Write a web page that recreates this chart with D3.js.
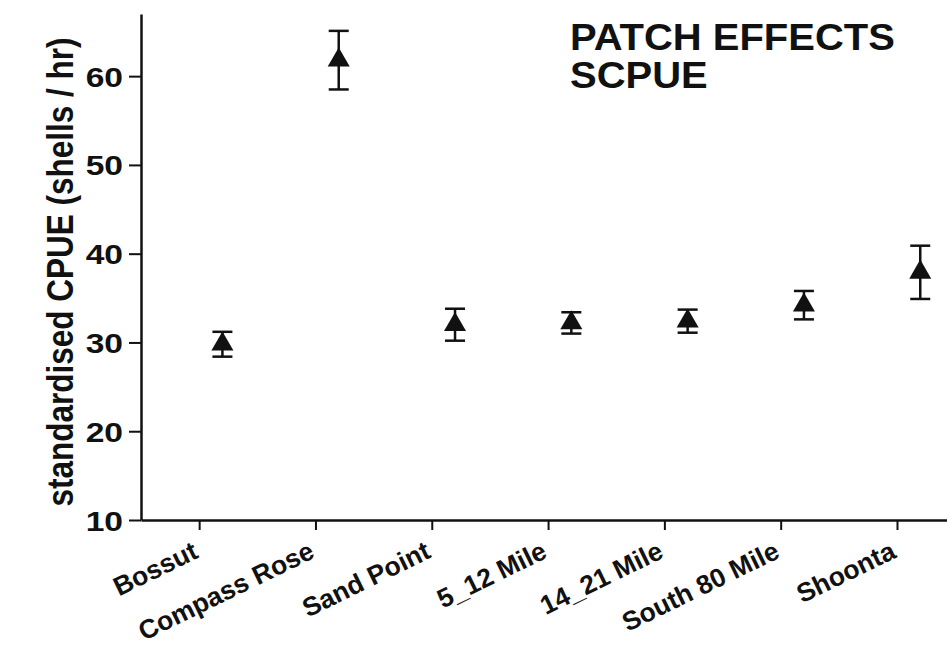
<!DOCTYPE html>
<html lang="en">
<head>
    <meta charset="UTF-8">
    <title>Patch Effects SCPUE</title>
    <script src="https://d3js.org/d3.v7.min.js"></script>
    <style>
        body { margin: 0; background: white; font-family: Arial, "Liberation Sans", sans-serif; }
        text { font-family: Arial, "Liberation Sans", sans-serif; font-weight: bold; fill: #111; }
    </style>
</head>
<body>
    <script>
        // Data
        const patches = ["Bossut", "Compass Rose", "Sand Point", "5_12 Mile", "14_21 Mile", "South 80 Mile", "Shoonta"];
        const scpue = [29.8, 61.8, 32.0, 32.2, 32.4, 34.2, 37.9];
        const stdErr = [1.4, 3.3, 1.8, 1.2, 1.3, 1.6, 3.0];
        const yTicks = [10, 20, 30, 40, 50, 60];

        const W = 947, H = 648;
        const svg = d3.select("body").append("svg")
            .attr("width", W)
            .attr("height", H);

        // x: category index; ticks on the integers, symbols sit a little to the right
        const pointShift = 0.2;
        const x = d3.scaleLinear()
            .domain([-0.5, 6.43])
            .range([141, 947]);

        const y = d3.scaleLinear()
            .domain([10, 67])
            .range([520, 14]);

        // y axis (the original lettering is a bit wider than Arial, hence the scale)
        const yAxis = svg.append("g")
            .attr("transform", "translate(141,0)")
            .call(d3.axisLeft(y).tickValues(yTicks).tickSize(12).tickPadding(3).tickSizeOuter(0));
        yAxis.select(".domain").attr("stroke", "#111").attr("stroke-width", 2.5);
        yAxis.selectAll(".tick line").attr("stroke", "#111").attr("stroke-width", 2);
        yAxis.selectAll(".tick text")
            .style("font-size", "28px")
            .attr("dy", "0.36em")
            .attr("transform", "scale(1.2,1)");

        // x axis
        const xAxis = svg.append("g")
            .attr("transform", "translate(0,520)")
            .call(d3.axisBottom(x).tickValues(d3.range(patches.length)).tickSize(10).tickSizeOuter(0)
                .tickFormat(i => patches[i]));
        xAxis.select(".domain").attr("stroke", "#111").attr("stroke-width", 2.5);
        xAxis.selectAll(".tick line").attr("stroke", "#111").attr("stroke-width", 2);
        xAxis.selectAll(".tick text")
            .style("font-size", "26.5px")
            .attr("text-anchor", "end")
            .attr("y", 0)
            .attr("dy", 0)
            .attr("transform", "translate(0,37) rotate(-26)");

        // y axis title
        svg.append("text")
            .attr("transform", "translate(73,272) rotate(-90) scale(1,1.2)")
            .attr("text-anchor", "middle")
            .style("font-size", "31.5px")
            .text("standardised CPUE (shells / hr)");

        // chart title
        const title = svg.append("text")
            .attr("transform", "translate(570,0) scale(1.08,1)")
            .style("font-size", "37px");
        title.append("tspan").attr("x", 0).attr("y", 50).text("PATCH EFFECTS");
        title.append("tspan").attr("x", 0).attr("y", 88).text("SCPUE");

        const pts = patches.map((p, i) => ({ i, v: scpue[i], e: stdErr[i] }));
        const cap = 10;

        // error bars
        const bars = svg.append("g")
            .attr("stroke", "#111")
            .attr("stroke-width", 2.5)
            .selectAll("g")
            .data(pts)
            .join("g");
        bars.append("line")
            .attr("x1", d => x(d.i + pointShift))
            .attr("x2", d => x(d.i + pointShift))
            .attr("y1", d => y(d.v + d.e))
            .attr("y2", d => y(d.v - d.e));
        bars.append("line")
            .attr("x1", d => x(d.i + pointShift) - cap)
            .attr("x2", d => x(d.i + pointShift) + cap)
            .attr("y1", d => y(d.v + d.e))
            .attr("y2", d => y(d.v + d.e));
        bars.append("line")
            .attr("x1", d => x(d.i + pointShift) - cap)
            .attr("x2", d => x(d.i + pointShift) + cap)
            .attr("y1", d => y(d.v - d.e))
            .attr("y2", d => y(d.v - d.e));

        // triangle markers
        svg.append("g")
            .selectAll("path")
            .data(pts)
            .join("path")
            .attr("transform", d => `translate(${x(d.i + pointShift)},${y(d.v)})`)
            .attr("d", d3.symbol(d3.symbolTriangle, 210))
            .attr("fill", "#111");
    </script>
</body>
</html>
